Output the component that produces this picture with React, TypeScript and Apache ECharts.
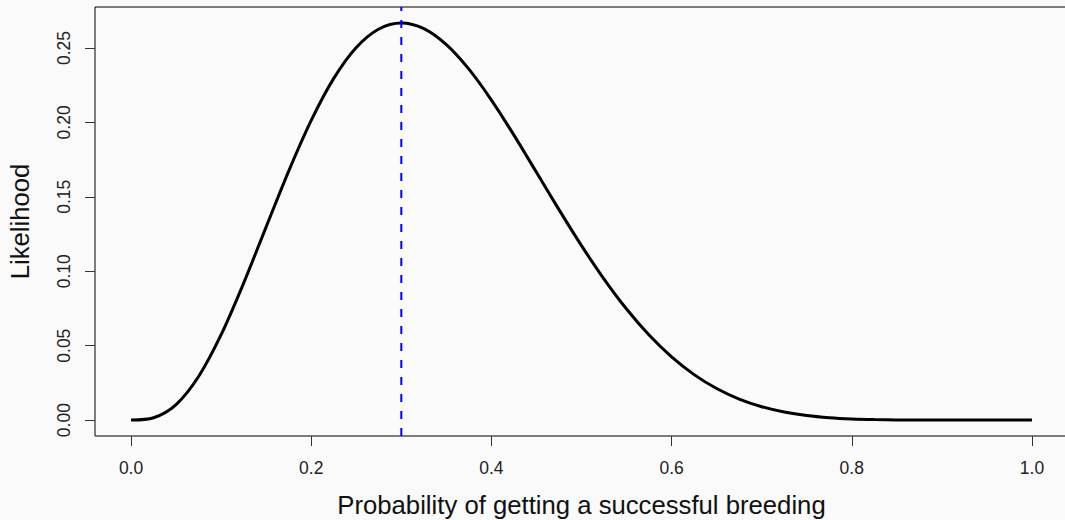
import React, { useEffect, useRef } from "react";
import * as echarts from "echarts";

// Probability of success (x) and the likelihood (y)
const probs = [
  0, 0.025, 0.05, 0.075, 0.1, 0.125, 0.15, 0.175, 0.2, 0.225, 0.25, 0.275, 0.3,
  0.325, 0.35, 0.375, 0.4, 0.425, 0.45, 0.475, 0.5, 0.525, 0.55, 0.575, 0.6,
  0.625, 0.65, 0.675, 0.7, 0.725, 0.75, 0.775, 0.8, 0.825, 0.85, 0.875, 0.9,
  0.925, 0.95, 0.975, 1.0,
];
const likelihood = [
  0, 0.00157, 0.010475, 0.029333, 0.057396, 0.092038, 0.129834, 0.167291,
  0.201327, 0.229531, 0.250282, 0.262752, 0.266828, 0.263002, 0.252219,
  0.235741, 0.214991, 0.191439, 0.166478, 0.141378, 0.117188, 0.09474,
  0.074603, 0.057136, 0.042467, 0.030551, 0.021203, 0.014134, 0.009002,
  0.005439, 0.00309, 0.001631, 0.000786, 0.000339, 0.000126, 0.000038,
  0.0000087, 0.0000013, 0.00000008, 0, 0,
];
const mleP = 0.3;
const xTicks = [0, 0.2, 0.4, 0.6, 0.8, 1.0];
const yTicks = [0, 0.05, 0.1, 0.15, 0.2, 0.25];
const xRange = [-0.04, 1.04];
const yRange = [-0.01067, 0.2775];

const FONT = "'Liberation Sans', Arial, Helvetica, sans-serif";

export default function App() {
  const ref = useRef<HTMLDivElement>(null);
  useEffect(() => {
    if (!ref.current) return;
    const chart = echarts.init(ref.current, null, { renderer: "svg" });
    chart.setOption({
      animation: false,
      backgroundColor: "#fafafa",
      textStyle: { fontFamily: FONT },
      grid: {
        left: 95,
        top: 7,
        width: 973,
        height: 429,
        containLabel: false,
        outerBoundsMode: "none",
        show: true,
        borderColor: "#000",
        borderWidth: 1,
        backgroundColor: "#fafafa",
      },
      xAxis: {
        type: "value",
        min: xRange[0],
        max: xRange[1],
        splitLine: { show: false },
        axisLine: { show: false, onZero: false },
        axisTick: {
          show: true,
          inside: false,
          length: 10,
          customValues: xTicks,
          lineStyle: { color: "#333", width: 1 },
        },
        axisLabel: {
          customValues: xTicks,
          formatter: (v: number) => v.toFixed(1),
          fontSize: 17.5,
          color: "#222",
          margin: 23,
          fontFamily: FONT,
        },
        name: "Probability of getting a successful breeding",
        nameLocation: "middle",
        nameGap: 56,
        nameTextStyle: { fontSize: 25.7, color: "#111", fontFamily: FONT },
      },
      yAxis: {
        type: "value",
        min: yRange[0],
        max: yRange[1],
        splitLine: { show: false },
        axisLine: { show: false, onZero: false },
        axisTick: {
          show: true,
          inside: false,
          length: 10,
          customValues: yTicks,
          lineStyle: { color: "#333", width: 1 },
        },
        axisLabel: {
          customValues: yTicks,
          formatter: (v: number) => v.toFixed(2),
          fontSize: 17.5,
          color: "#222",
          rotate: 90,
          margin: 22,
          fontFamily: FONT,
        },
        name: "Likelihood",
        nameLocation: "middle",
        nameGap: 62,
        nameRotate: 90,
        nameTextStyle: { fontSize: 25.7, color: "#111", fontFamily: FONT },
      },
      series: [
        {
          type: "line",
          data: probs.map((p, i) => [p, likelihood[i]]),
          showSymbol: false,
          smooth: 0.3,
          lineStyle: { color: "#000", width: 3 },
          z: 3,
        },
        {
          type: "line",
          data: [
            [mleP, yRange[0]],
            [mleP, yRange[1]],
          ],
          showSymbol: false,
          lineStyle: { color: "#0000ff", width: 2, type: [8, 9] },
          z: 4,
        },
      ],
    });
    return () => chart.dispose();
  }, []);
  return (
    <div
      style={{
        position: "fixed",
        left: 0,
        top: 0,
        width: 1065,
        height: 520,
        overflow: "hidden",
        background: "#fafafa",
      }}
    >
      <div ref={ref} style={{ width: 1080, height: 520 }} />
    </div>
  );
}
